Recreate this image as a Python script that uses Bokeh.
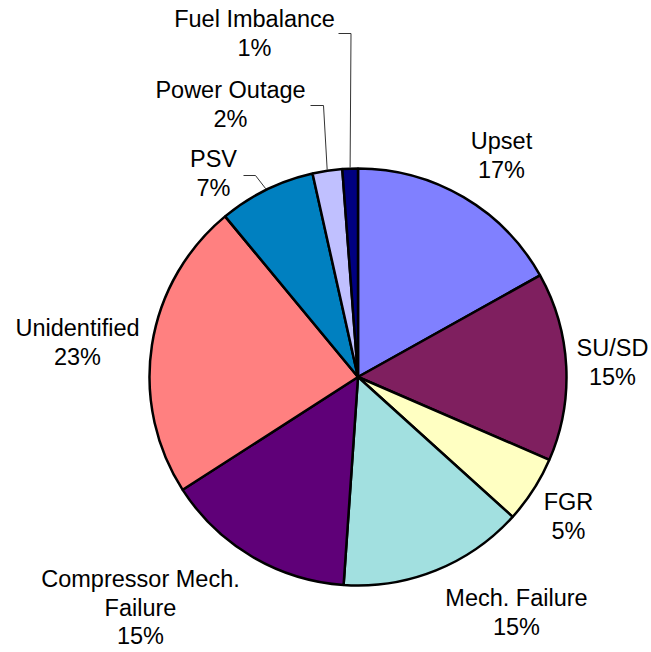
import math
from bokeh.plotting import figure
from bokeh.models import Range1d, ColumnDataSource
from bokeh.core.properties import value
from bokeh.embed import file_html
from bokeh.resources import INLINE

# ---- data ----
categories = ["Upset", "SU/SD", "FGR", "Mech. Failure", "Compressor Mech.\nFailure",
              "Unidentified", "PSV", "Power Outage", "Fuel Imbalance"]
shares = [16.9, 14.6, 5.2, 14.4, 14.8, 23.1, 7.5, 2.3, 1.2]
pct_labels = ["17%", "15%", "5%", "15%", "15%", "23%", "7%", "2%", "1%"]
colors = ["#8080FF", "#7F1F5F", "#FFFFC2", "#A2E0E0", "#5F0078",
          "#FF8080", "#0080C0", "#C0C0FF", "#000080"]

W, H = 651, 652
def dx(px):
    return px
def dy(py):
    return H - py

p = figure(width=W, height=H, output_backend="svg", toolbar_location=None,
           x_range=Range1d(0, W), y_range=Range1d(0, H), min_border=0)
p.axis.visible = False
p.grid.visible = False
p.outline_line_color = None

cx, cy, r = dx(357.5), dy(376.5), 208.5
total = sum(shares)
starts, ends, mids = [], [], []
cum = 0.0
for s in shares:
    a0 = math.pi / 2 - 2 * math.pi * cum / total
    cum += s
    a1 = math.pi / 2 - 2 * math.pi * cum / total
    starts.append(a0); ends.append(a1); mids.append((a0 + a1) / 2)

src = ColumnDataSource(dict(start=starts, end=ends, color=colors))
p.wedge(x=cx, y=cy, radius=r, start_angle="start", end_angle="end", direction="clock",
        fill_color="color", line_color="black", line_width=2.5, source=src)

# label positions (page px): centre of label block
label_pos = {
    "Upset": (501, 155), "SU/SD": (612, 362), "FGR": (568, 516),
    "Mech. Failure": (516, 612), "Compressor Mech.\nFailure": (140, 607),
    "Unidentified": (77, 342), "PSV": (213, 173), "Power Outage": (230, 104),
    "Fuel Imbalance": (254, 33),
}
LINE = 29.5
tx, ty, tt = [], [], []
for c, pl in zip(categories, pct_labels):
    x, y = label_pos[c]
    lines = c.split("\n") + [pl]
    n = len(lines)
    step = LINE if n < 3 else 28.5
    for k, t in enumerate(lines):
        tx.append(dx(x))
        ty.append(dy(y + (k - (n - 1) / 2) * step))
        tt.append(t)
p.text(x=tx, y=ty, text=tt, text_font=value("Liberation Sans"), text_font_size="23.5px",
       text_align="center", text_baseline="middle", text_color="black")

# leader lines for small slices
elbows = {"PSV": [(243, 175), (255, 175)],
          "Power Outage": [(310, 105), (323, 105)],
          "Fuel Imbalance": [(338, 33), (350.5, 33)]}
xs, ys = [], []
for i, c in enumerate(categories):
    if c in elbows:
        pts = elbows[c]
        ex = cx + (r + 1) * math.cos(mids[i])
        ey = cy + (r + 1) * math.sin(mids[i])
        xs.append([dx(pts[0][0]), dx(pts[1][0]), ex])
        ys.append([dy(pts[0][1]), dy(pts[1][1]), ey])
p.multi_line(xs=xs, ys=ys, line_color="#333333", line_width=1)

open("out.html", "w").write(file_html(p, INLINE))
